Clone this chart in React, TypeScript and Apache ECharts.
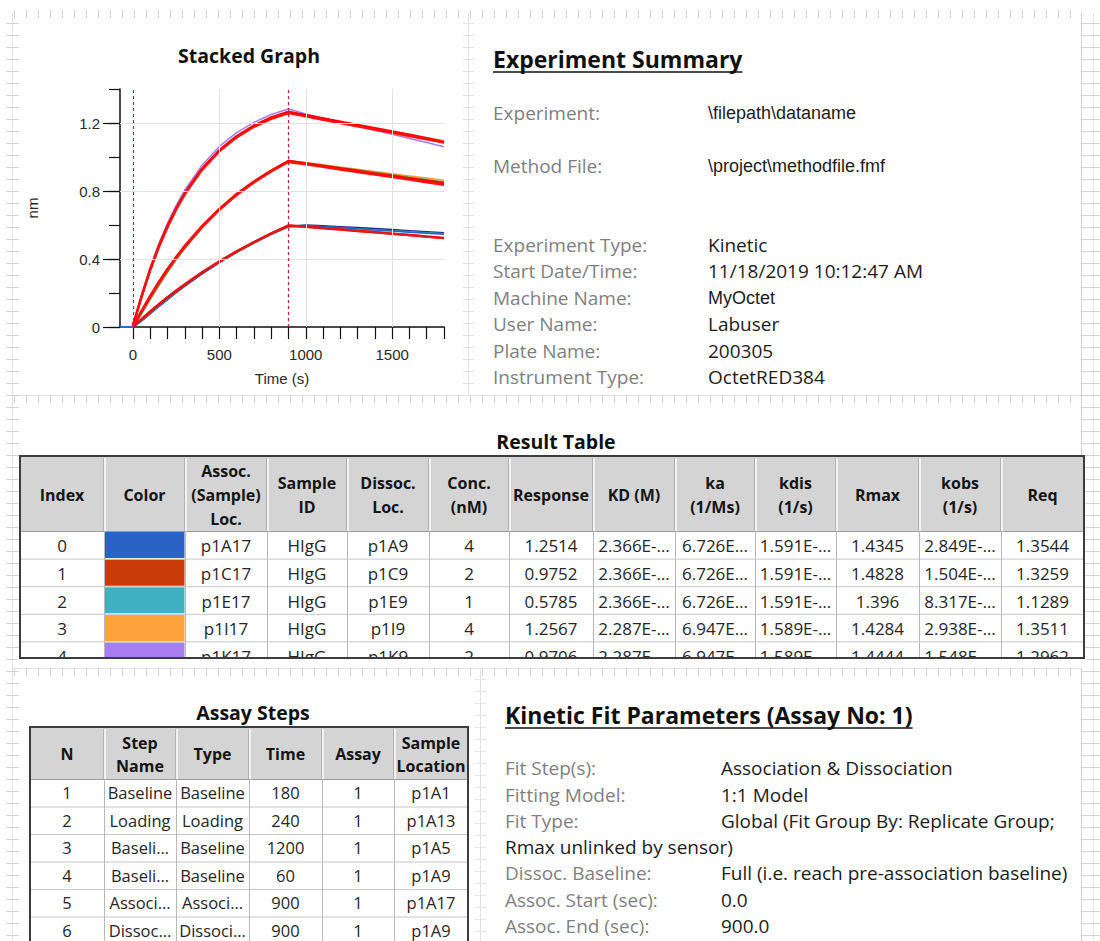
import React, { useEffect, useRef } from 'react';
import * as echarts from 'echarts';

// ---------------- Stacked graph data ----------------
const rawTimes = [-75, 0, 50, 100, 150, 200, 250, 300, 400, 500, 600, 700, 800, 900, 1000, 1100, 1200, 1300, 1400, 1500, 1600, 1700, 1800];
const fitTimes = [0, 50, 100, 150, 200, 250, 300, 400, 500, 600, 700, 800, 900, 1000, 1100, 1200, 1300, 1400, 1500, 1600, 1700, 1800];

const rawPurpleHigh = [0, 0, 0.190, 0.352, 0.492, 0.612, 0.716, 0.806, 0.952, 1.062, 1.143, 1.204, 1.250, 1.282, 1.253, 1.229, 1.205, 1.181, 1.157, 1.133, 1.109, 1.085, 1.060];
const rawOrangeHigh = [0, 0, 0.172, 0.330, 0.466, 0.584, 0.688, 0.778, 0.926, 1.036, 1.120, 1.183, 1.230, 1.262, 1.244, 1.225, 1.206, 1.187, 1.169, 1.150, 1.132, 1.114, 1.096];
const rawBrownHigh = [0, 0, 0.176, 0.336, 0.472, 0.590, 0.694, 0.784, 0.930, 1.040, 1.124, 1.188, 1.236, 1.268, 1.247, 1.227, 1.206, 1.185, 1.165, 1.145, 1.125, 1.105, 1.085];
const rawOrangeMid = [0, 0, 0.082, 0.168, 0.251, 0.330, 0.402, 0.468, 0.588, 0.692, 0.781, 0.856, 0.921, 0.980, 0.968, 0.955, 0.941, 0.928, 0.915, 0.902, 0.889, 0.876, 0.863];
const rawOliveMid = [0, 0, 0.078, 0.162, 0.244, 0.322, 0.395, 0.462, 0.582, 0.688, 0.778, 0.854, 0.919, 0.978, 0.965, 0.951, 0.937, 0.923, 0.909, 0.895, 0.881, 0.867, 0.853];
const rawNavyLow = [0, 0, 0.036, 0.079, 0.121, 0.162, 0.202, 0.241, 0.313, 0.380, 0.441, 0.496, 0.547, 0.592, 0.599, 0.594, 0.589, 0.584, 0.578, 0.572, 0.566, 0.560, 0.553];
const rawTealLow = [0, 0, 0.038, 0.081, 0.123, 0.164, 0.204, 0.243, 0.315, 0.381, 0.441, 0.495, 0.545, 0.588, 0.593, 0.589, 0.584, 0.578, 0.572, 0.566, 0.560, 0.554, 0.548];
const rawBlueLow = [0, 0, 0.040, 0.084, 0.126, 0.167, 0.207, 0.246, 0.318, 0.384, 0.444, 0.498, 0.548, 0.594, 0.596, 0.590, 0.584, 0.578, 0.571, 0.565, 0.558, 0.552, 0.546];

const fitHighA = [0.010, 0.182, 0.340, 0.477, 0.595, 0.698, 0.788, 0.932, 1.040, 1.122, 1.184, 1.231, 1.265, 1.245, 1.226, 1.207, 1.188, 1.169, 1.150, 1.131, 1.110, 1.088];
const fitHighB = [0.010, 0.178, 0.334, 0.470, 0.587, 0.690, 0.780, 0.924, 1.033, 1.115, 1.177, 1.224, 1.258, 1.238, 1.218, 1.199, 1.180, 1.161, 1.142, 1.123, 1.104, 1.085];
const fitMidA = [0.005, 0.095, 0.183, 0.265, 0.342, 0.412, 0.477, 0.594, 0.695, 0.782, 0.856, 0.920, 0.976, 0.962, 0.947, 0.932, 0.917, 0.902, 0.888, 0.873, 0.859, 0.845];
const fitMidB = [0.005, 0.093, 0.180, 0.261, 0.337, 0.407, 0.472, 0.588, 0.689, 0.776, 0.850, 0.914, 0.970, 0.956, 0.941, 0.926, 0.911, 0.896, 0.881, 0.866, 0.851, 0.836];
const fitLowA = [0.003, 0.046, 0.090, 0.132, 0.173, 0.212, 0.249, 0.320, 0.384, 0.443, 0.498, 0.549, 0.595, 0.589, 0.581, 0.573, 0.565, 0.557, 0.549, 0.541, 0.532, 0.524];
const fitLowB = [0.003, 0.047, 0.092, 0.135, 0.176, 0.215, 0.252, 0.323, 0.387, 0.446, 0.500, 0.551, 0.598, 0.591, 0.583, 0.575, 0.566, 0.558, 0.549, 0.540, 0.531, 0.522];

const xTickValues = [0, 100, 200, 300, 400, 500, 600, 700, 800, 900, 1000, 1100, 1200, 1300, 1400, 1500, 1600, 1700, 1800];
const xLabelValues = [0, 500, 1000, 1500];
const yLabelValues = [0, 0.4, 0.8, 1.2];
const xGridValues = [500, 1000, 1500];
const yGridValues = [0.4, 0.8, 1.2];
const stepBoundaries = [0, 900];

// ---------------- Experiment summary ----------------
const summaryLabels = ['Experiment:', 'Method File:', 'Experiment Type:', 'Start Date/Time:', 'Machine Name:', 'User Name:', 'Plate Name:', 'Instrument Type:'];
const summaryValues = ['\\filepath\\dataname', '\\project\\methodfile.fmf', 'Kinetic', '11/18/2019 10:12:47 AM', 'MyOctet', 'Labuser', '200305', 'OctetRED384'];

// ---------------- Result table ----------------
const resultHeaders = ['Index', 'Color', 'Assoc.\n(Sample)\nLoc.', 'Sample\nID', 'Dissoc.\nLoc.', 'Conc.\n(nM)', 'Response', 'KD (M)', 'ka\n(1/Ms)', 'kdis\n(1/s)', 'Rmax', 'kobs\n(1/s)', 'Req'];
const resultIndex = ['0', '1', '2', '3', '4'];
const resultSwatches = ['#2a62c6', '#c83b08', '#3fb1c3', '#ffa33c', '#a97ef2'];
const resultAssocLoc = ['p1A17', 'p1C17', 'p1E17', 'p1I17', 'p1K17'];
const resultSampleId = ['HIgG', 'HIgG', 'HIgG', 'HIgG', 'HIgG'];
const resultDissocLoc = ['p1A9', 'p1C9', 'p1E9', 'p1I9', 'p1K9'];
const resultConc = ['4', '2', '1', '4', '2'];
const resultResponse = ['1.2514', '0.9752', '0.5785', '1.2567', '0.9706'];
const resultKD = ['2.366E-…', '2.366E-…', '2.366E-…', '2.287E-…', '2.287E-…'];
const resultKa = ['6.726E…', '6.726E…', '6.726E…', '6.947E…', '6.947E…'];
const resultKdis = ['1.591E-…', '1.591E-…', '1.591E-…', '1.589E-…', '1.589E-…'];
const resultRmax = ['1.4345', '1.4828', '1.396', '1.4284', '1.4444'];
const resultKobs = ['2.849E-…', '1.504E-…', '8.317E-…', '2.938E-…', '1.548E-…'];
const resultReq = ['1.3544', '1.3259', '1.1289', '1.3511', '1.2962'];

// ---------------- Assay steps ----------------
const assayHeaders = ['N', 'Step\nName', 'Type', 'Time', 'Assay', 'Sample\nLocation'];
const assayN = ['1', '2', '3', '4', '5', '6'];
const assayStepName = ['Baseline', 'Loading', 'Baseli…', 'Baseli…', 'Associ…', 'Dissoc…'];
const assayType = ['Baseline', 'Loading', 'Baseline', 'Baseline', 'Associ…', 'Dissoci…'];
const assayTime = ['180', '240', '1200', '60', '900', '900'];
const assayAssay = ['1', '1', '1', '1', '1', '1'];
const assayLocation = ['p1A1', 'p1A13', 'p1A5', 'p1A9', 'p1A17', 'p1A9'];

// ---------------- Kinetic fit parameters ----------------
const fitParamLabels = ['Fit Step(s):', 'Fitting Model:', 'Fit Type:', 'Dissoc. Baseline:', 'Assoc. Start (sec):', 'Assoc. End (sec):'];
const fitParamValues = ['Association & Dissociation', '1:1 Model', 'Global (Fit Group By: Replicate Group;', 'Full (i.e. reach pre-association baseline)', '0.0', '900.0'];
const fitTypeContinuation = 'Rmax unlinked by sensor)';

// ---------------- Layout / style constants ----------------
const UI = "'Open Sans', 'Noto Sans', sans-serif";
const ARIAL = "'Liberation Sans', Arial, sans-serif";
const summaryRowY = [113, 166, 245, 271, 298, 324, 351, 377];
const summaryArialValue = [true, true, false, false, true, false, false, false];
const fitRowY = [768, 795, 821, 873, 900, 926];
const fitContinuationY = 847;
const resultCols = [20, 104, 185, 267, 347, 429, 509, 593, 675, 755, 836, 919, 1001, 1084];
const assayCols = [30, 104, 176, 249, 322, 394, 468];

function measure(text: string, font: string): number {
  const ctx = document.createElement('canvas').getContext('2d');
  if (!ctx) return text.length * 10;
  ctx.font = font;
  return ctx.measureText(text).width;
}

function T(x: number, y: number, text: string, font: string, fill: string, align = 'left', extra: any = {}, z = 4): any {
  return {
    type: 'text', x, y, z, silent: true,
    style: { text, font, fill, align, textAlign: align, verticalAlign: 'middle', textVerticalAlign: 'middle', ...extra },
  };
}
function L(x1: number, y1: number, x2: number, y2: number, stroke: string, lineWidth = 1, z = 3): any {
  return { type: 'line', z, silent: true, shape: { x1, y1, x2, y2 }, style: { stroke, lineWidth } };
}
function R(x: number, y: number, width: number, height: number, style: any, z = 1): any {
  return { type: 'rect', z, silent: true, shape: { x, y, width, height }, style };
}

function sheetDecor(): any[] {
  const els: any[] = [];
  const line = '#e2e2e2';
  const tick = '#d2d2d2';
  for (let x = 14; x < 1082; x += 12) els.push(L(x + 0.5, 10, x + 0.5, 18, tick, 1, 0));
  [395, 668].forEach((y) => {
    els.push(L(12, y + 0.5, 1082, y + 0.5, line, 1, 0));
    for (let x = 14; x < 1082; x += 12) els.push(L(x + 0.5, y, x + 0.5, y + 8, tick, 1, 0));
  });
  els.push(L(12.5, 13, 12.5, 941, line, 1, 0));
  for (let y = 23; y < 941; y += 12) els.push(L(6, y + 0.5, 19, y + 0.5, tick, 1, 0));
  els.push(L(1081.5, 13, 1081.5, 941, '#d0d0d0', 1, 0));
  els.push(L(1093.5, 13, 1093.5, 941, '#e6e6e6', 1, 0));
  for (let y = 23; y < 941; y += 12) els.push(L(1082, y + 0.5, 1100, y + 0.5, tick, 1, 0));
  els.push(L(468.5, 13, 468.5, 395, line, 1, 0));
  for (let y = 23; y < 395; y += 12) els.push(L(463, y + 0.5, 474, y + 0.5, '#e4e4e4', 1, 0));
  els.push(L(480.5, 668, 480.5, 941, line, 1, 0));
  for (let y = 679; y < 941; y += 12) els.push(L(475, y + 0.5, 486, y + 0.5, '#e4e4e4', 1, 0));
  return els;
}

function buildTable(
  cols: number[], top: number, headH: number, rowH: number, bottom: number, headers: string[], columns: string[][],
  swatchCol: number, swatches: string[], headLineH: number, bodyFont: string, textDy: number,
): any[] {
  const els: any[] = [];
  const left = cols[0];
  const right = cols[cols.length - 1];
  const bodyTop = top + headH;
  const nRows = columns[0].length;
  els.push(R(left, top, right - left, bottom - top, { fill: '#ffffff' }, 1));
  els.push(R(left, top, right - left, headH, { fill: '#d4d4d4' }, 1));
  headers.forEach((h, c) => {
    els.push(T((cols[c] + cols[c + 1]) / 2, top + headH / 2 + 1, h, `bold 16px ${UI}`, '#151515', 'center', { lineHeight: headLineH }));
  });
  for (let c = 1; c < cols.length - 1; c++) {
    els.push(L(cols[c] - 0.5, top + 2, cols[c] - 0.5, bodyTop, '#b2b2b2', 1, 3));
    els.push(L(cols[c] + 1, top + 2, cols[c] + 1, bodyTop, '#f2f2f2', 2, 3));
  }
  els.push(L(left, bodyTop + 0.5, right, bodyTop + 0.5, '#9c9c9c', 1, 3));
  for (let r = 0; r < nRows; r++) {
    const yTop = bodyTop + r * rowH;
    const yc = yTop + rowH / 2 + textDy;
    columns.forEach((col, c) => {
      if (c === swatchCol) {
        const h = Math.min(rowH - 1.5, bottom - yTop - 1);
        els.push(R(cols[c] + 1, yTop + 1, cols[c + 1] - cols[c] - 1.5, h, { fill: swatches[r] }, 2));
      } else {
        els.push(T((cols[c] + cols[c + 1]) / 2, yc, col[r], bodyFont, '#262626', 'center'));
      }
    });
    if (yTop + rowH < bottom - 1) {
      els.push(L(left, yTop + rowH + 0.5, right, yTop + rowH + 0.5, '#c6c6c6', 1, 3));
    }
  }
  for (let c = 1; c < cols.length - 1; c++) {
    els.push(L(cols[c] + 0.5, bodyTop, cols[c] + 0.5, bottom, '#b8b8b8', 1, 3));
  }
  if (bottom < 941) {
    els.push(R(left - 3, bottom, right - left + 6, 9.5, { fill: '#ffffff' }, 6));
  }
  els.push(R(left, top, right - left, bottom - top, { fill: 'none', stroke: '#3c3c3c', lineWidth: 2 }, 7));
  return els;
}

function underlinedTitle(x: number, y: number, text: string, font: string): any[] {
  const w = measure(text, font);
  return [T(x, y, text, font, '#111111', 'left'), L(x, y + 13, x + w, y + 13, '#111111', 1.7, 4)];
}

function buildGraphic(): any[] {
  const els: any[] = [...sheetDecor()];
  els.push(T(249, 55, 'Stacked Graph', `bold 19.5px ${UI}`, '#111111', 'center'));
  els.push(...underlinedTitle(493, 59, 'Experiment Summary', `bold 23px ${UI}`));
  summaryLabels.forEach((lab, i) => {
    els.push(T(493, summaryRowY[i], lab, `19px ${UI}`, '#7f7f7f'));
    const vf = summaryArialValue[i] ? `18px ${ARIAL}` : `19px ${UI}`;
    els.push(T(708, summaryRowY[i], summaryValues[i], vf, '#1c1c1c'));
  });
  els.push(T(556, 441, 'Result Table', `bold 19.5px ${UI}`, '#111111', 'center'));
  els.push(...buildTable(resultCols, 456, 75, 27.6, 658, resultHeaders,
    [resultIndex, resultIndex.map(() => ''), resultAssocLoc, resultSampleId, resultDissocLoc, resultConc, resultResponse, resultKD, resultKa, resultKdis, resultRmax, resultKobs, resultReq],
    1, resultSwatches, 24, `17px ${UI}`, 1));
  els.push(T(253, 712, 'Assay Steps', `bold 19.5px ${UI}`, '#111111', 'center'));
  els.push(...buildTable(assayCols, 727, 52, 27.5, 960, assayHeaders,
    [assayN, assayStepName, assayType, assayTime, assayAssay, assayLocation], -1, [], 23, `16.5px ${UI}`, 0));
  els.push(...underlinedTitle(505, 715, 'Kinetic Fit Parameters (Assay No: 1)', `bold 23px ${UI}`));
  fitParamLabels.forEach((lab, i) => {
    els.push(T(505, fitRowY[i], lab, `19px ${UI}`, '#7f7f7f'));
    els.push(T(721, fitRowY[i], fitParamValues[i], `19px ${UI}`, '#1c1c1c'));
  });
  els.push(T(505, fitContinuationY, fitTypeContinuation, `19px ${UI}`, '#1c1c1c'));
  return els;
}

function lineSeries(name: string, times: number[], vals: number[], color: string, width: number, z: number): any {
  return {
    name, type: 'line', data: times.map((t, i) => [t, vals[i]]), symbol: 'none', showSymbol: false,
    lineStyle: { color, width }, itemStyle: { color }, z, silent: true,
  };
}

function buildOption(): any {
  const axisFont = { fontFamily: "'Liberation Sans', Arial, sans-serif", fontSize: 15, color: '#2a2a2a' };
  return {
    animation: false,
    backgroundColor: '#ffffff',
    grid: { left: 120, top: 89, width: 324, height: 238, containLabel: false },
    xAxis: {
      type: 'value', min: -75, max: 1800,
      name: 'Time (s)', nameLocation: 'middle', nameGap: 44, nameTextStyle: { ...axisFont },
      axisLine: { show: true, onZero: false, lineStyle: { color: '#111111', width: 1.5 } },
      axisTick: { show: true, customValues: xTickValues, length: 12, lineStyle: { color: '#111111', width: 1.2 } },
      axisLabel: { customValues: xLabelValues, formatter: (v: number) => String(v), margin: 20, ...axisFont },
      splitLine: { show: false },
    },
    yAxis: [
      {
        type: 'value', min: 0, max: 1.4, interval: 0.2, position: 'left',
        name: 'nm', nameLocation: 'middle', nameGap: 80, nameTextStyle: { ...axisFont },
        axisLine: { show: true, onZero: false, lineStyle: { color: '#111111', width: 1.5 } },
        axisTick: { show: true, length: 11, lineStyle: { color: '#111111', width: 1.2 } },
        axisLabel: { customValues: yLabelValues, formatter: (v: number) => String(v), margin: 20, ...axisFont },
        splitLine: { show: false },
      },
      {
        type: 'value', min: 0, max: 1.4, position: 'left', offset: 0,
        axisLine: { show: false, onZero: false },
        axisTick: { show: true, customValues: yLabelValues, length: 17, lineStyle: { color: '#111111', width: 1.2 } },
        axisLabel: { show: false },
        splitLine: { show: false },
      },
    ],
    series: [
      {
        name: 'grid', type: 'line', data: [], z: 1, silent: true,
        markLine: {
          silent: true, symbol: ['none', 'none'], label: { show: false },
          lineStyle: { color: '#e2e2e2', width: 1, type: 'solid' },
          data: [...xGridValues.map((v) => ({ xAxis: v })), ...yGridValues.map((v) => ({ yAxis: v }))],
        },
      },
      lineSeries('purple high', rawTimes, rawPurpleHigh, '#a77cf0', 1.5, 2),
      lineSeries('orange high', rawTimes, rawOrangeHigh, '#f0a050', 1.5, 2),
      lineSeries('brown high', rawTimes, rawBrownHigh, '#b5542a', 1.5, 2),
      lineSeries('orange mid', rawTimes, rawOrangeMid, '#f2a040', 1.5, 2),
      lineSeries('olive mid', rawTimes, rawOliveMid, '#8c7a34', 1.5, 2),
      lineSeries('navy low', rawTimes, rawNavyLow, '#1b2a8c', 1.8, 2),
      lineSeries('teal low', rawTimes, rawTealLow, '#33b3c4', 1.5, 2),
      lineSeries('blue low', rawTimes, rawBlueLow, '#2a62c6', 1.5, 2),
      lineSeries('fit high A', fitTimes, fitHighA, '#ff0000', 2.5, 3),
      lineSeries('fit high B', fitTimes, fitHighB, '#ff1010', 2.2, 3),
      lineSeries('fit mid A', fitTimes, fitMidA, '#ff0000', 2.5, 3),
      lineSeries('fit mid B', fitTimes, fitMidB, '#ff1010', 2.2, 3),
      lineSeries('fit low A', fitTimes, fitLowA, '#ff0000', 2.5, 3),
      lineSeries('fit low B', fitTimes, fitLowB, '#e01818', 2.2, 3),
      {
        name: 'steps', type: 'line', data: [], z: 5, silent: true,
        markLine: {
          silent: true, symbol: ['none', 'none'], label: { show: false },
          lineStyle: { color: '#d01a44', width: 1.2, type: [3, 3] },
          data: stepBoundaries.map((v) => ({ xAxis: v })),
        },
      },
    ],
    graphic: { elements: buildGraphic() },
  };
}

export default function App() {
  const ref = useRef<HTMLDivElement>(null);
  useEffect(() => {
    if (!ref.current) return;
    const chart = echarts.init(ref.current, null, { renderer: 'svg' });
    chart.setOption(buildOption());
    return () => chart.dispose();
  }, []);
  return (
    <div
      ref={ref}
      style={{ position: 'absolute', left: 0, top: 0, width: 1100, height: 941, background: '#ffffff' }}
    />
  );
}
